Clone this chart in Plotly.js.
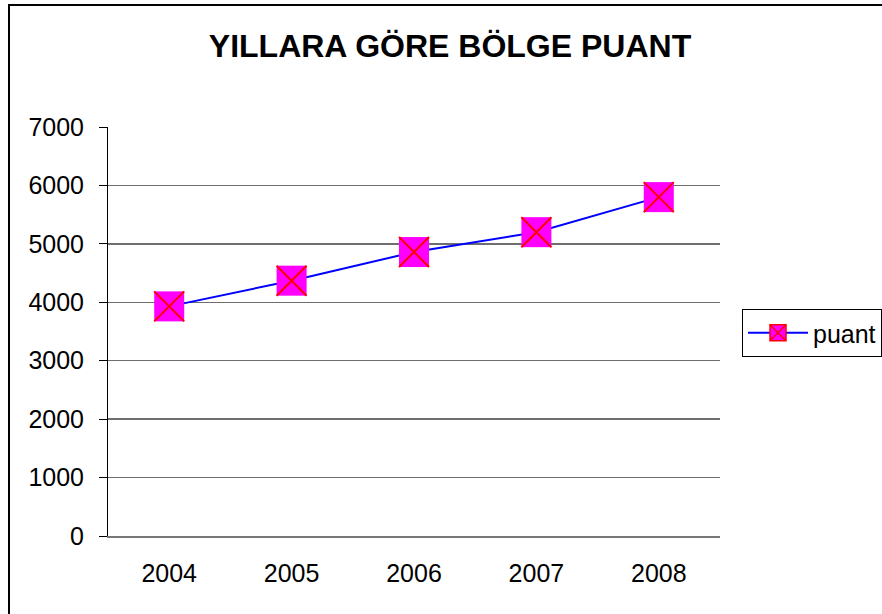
<!DOCTYPE html>
<html>
<head>
<meta charset="utf-8">
<script src="https://cdn.plot.ly/plotly-3.0.1.min.js"></script>
<style>
html,body{margin:0;padding:0;background:#fff;}
#chart{width:882px;height:614px;}
</style>
</head>
<body>
<div id="chart"></div>
<script>
// Data
const years = ['2004', '2005', '2006', '2007', '2008'];
const puant = [3930, 4370, 4860, 5200, 5800];
const seriesName = 'puant';
const titleText = 'YILLARA GÖRE BÖLGE PUANT';
const yTicks = [0, 1000, 2000, 3000, 4000, 5000, 6000, 7000];

const W = 882, H = 614;
const L = 108, R = 720, T = 127, B = 536;
const pw = R - L, ph = B - T;
const FONT = 'Liberation Sans, Arial, sans-serif';

const traces = [
  { x: years, y: puant, type: 'scatter', mode: 'lines', showlegend: false,
    line: { color: '#0000FF', width: 2 }, hoverinfo: 'skip' },
  { x: years, y: puant, type: 'scatter', mode: 'markers', showlegend: false,
    marker: { symbol: 'square', size: 30, color: '#FF00FF', line: { width: 0 } } },
  { x: years, y: puant, type: 'scatter', mode: 'markers', showlegend: false,
    marker: { symbol: 'x-thin-open', size: 30, color: '#FF0000', line: { color: '#FF0000', width: 2 } } },
  { x: [null], y: [null], type: 'scatter', mode: 'lines+markers', name: seriesName, showlegend: true,
    line: { color: '#0000FF', width: 2 },
    marker: { symbol: 'square-x', size: 22, color: '#FF00FF', line: { color: '#FF0000', width: 1.5 } } }
];

const layout = {
  width: W, height: H,
  margin: { l: L, r: W - R, t: T, b: H - B, pad: 0, autoexpand: false },
  paper_bgcolor: '#fff', plot_bgcolor: '#fff',
  font: { family: FONT, size: 25, color: '#000' },
  title: { text: '<b>' + titleText + '</b>', font: { family: FONT, size: 32, color: '#000' },
    xref: 'container', yref: 'container', x: 450 / W, xanchor: 'center', y: 1 - 46 / H, yanchor: 'middle' },
  xaxis: { type: 'category', range: [-0.5, 4.5], showgrid: false, zeroline: false,
    showline: true, linecolor: '#777', linewidth: 1.5, ticks: '', automargin: false,
    ticklabelstandoff: 14, tickfont: { family: FONT, size: 25, color: '#000' }, fixedrange: true },
  yaxis: { range: [0, 7000], tickvals: yTicks, ticktext: yTicks.map(String), showgrid: true,
    gridcolor: '#6e6e6e', gridwidth: 1.5, zeroline: false, automargin: false,
    showline: true, linecolor: '#000', linewidth: 1, ticks: 'outside', ticklen: 8, tickcolor: '#000', tickwidth: 1,
    ticklabelstandoff: 10, tickfont: { family: FONT, size: 25, color: '#000' }, fixedrange: true },
  legend: { x: (742 - L) / pw, xanchor: 'left', y: (B - 309) / ph, yanchor: 'top',
    bordercolor: '#000', borderwidth: 1, bgcolor: '#fff',
    font: { family: FONT, size: 25, color: '#000' }, itemwidth: 60 },
  shapes: [
    { type: 'rect', xref: 'paper', yref: 'paper',
      x0: (9 - L) / pw, x1: (W + 5 - L) / pw, y0: (B - (H + 5)) / ph, y1: (B - 5) / ph,
      line: { color: '#000', width: 2 }, fillcolor: 'rgba(0,0,0,0)', layer: 'above' }
  ],
  showlegend: true
};

Plotly.newPlot('chart', traces, layout, { displayModeBar: false, staticPlot: true });
</script>
</body>
</html>
